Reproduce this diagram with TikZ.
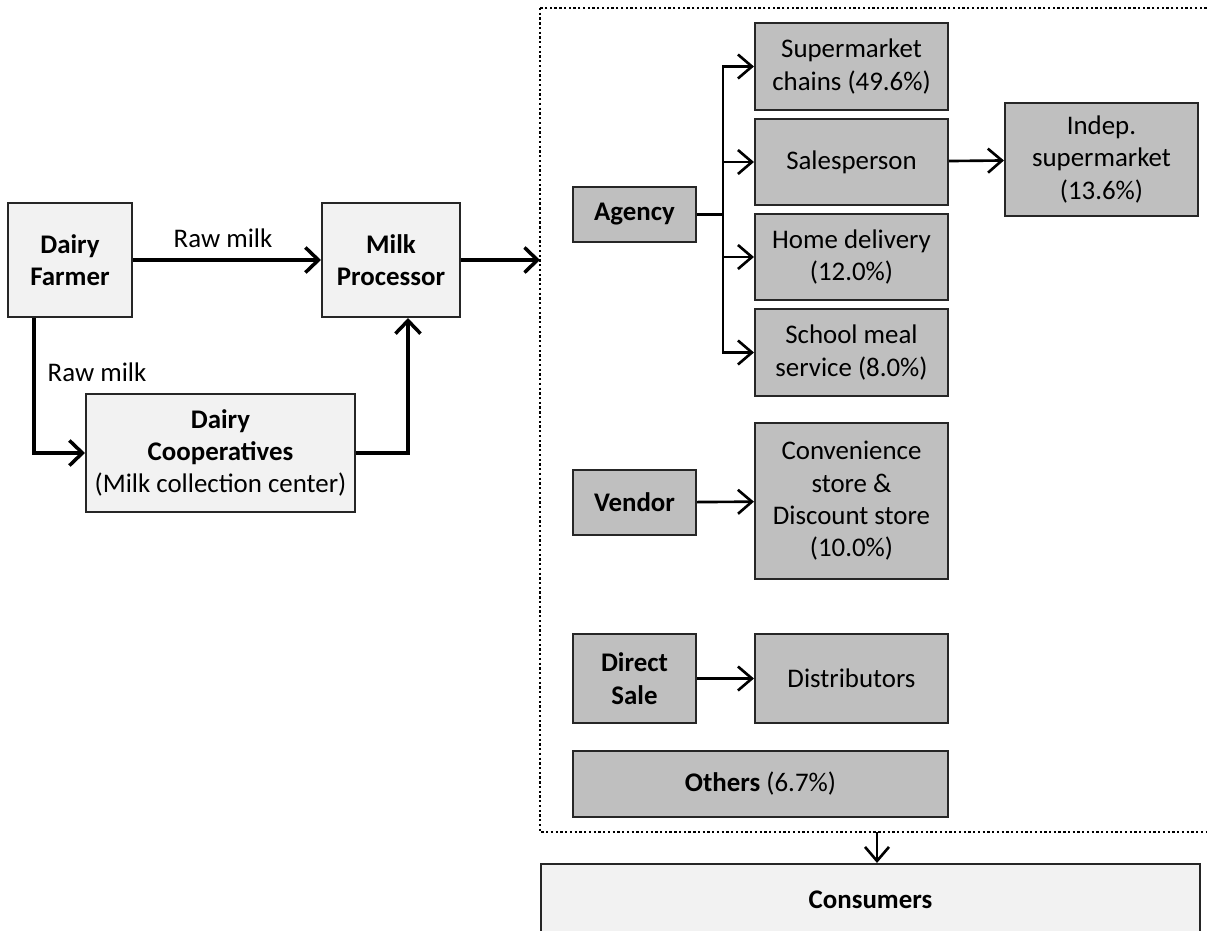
\documentclass[tikz,border=0pt]{standalone}
\usepackage{fontspec}
\setmainfont{Carlito}
\usetikzlibrary{arrows.meta}
\definecolor{lightfill}{HTML}{F2F2F2}
\definecolor{darkfill}{HTML}{BFBFBF}
\tikzset{
  lightbox/.style={draw=black!85, line width=1.2pt, fill=lightfill, align=center, inner sep=2pt},
  darkbox/.style={draw=black!85, line width=1.2pt, fill=darkfill, align=center, inner sep=2pt},
  mainflow/.style={line width=2pt, -{Straight Barb[length=0.26cm,width=0.5cm,line width=2pt]}},
  subflow/.style={line width=1.5pt, -{Straight Barb[length=0.28cm,width=0.48cm,line width=1.5pt]}},
  flowlabel/.style={inner sep=0pt}
}
\begin{document}
\begin{tikzpicture}[x=0.02cm, y=-0.02cm, font=\fontsize{15.3}{18.4}\selectfont]
      \useasboundingbox (0,0) rectangle (1207,930);
      \clip (0,0) rectangle (1207,930);
      % supply side
      \node[lightbox, minimum width=2.48cm, minimum height=2.28cm] (farmer) at (70,260) {\textbf{Dairy}\\\textbf{Farmer}};
      \node[lightbox, minimum width=2.76cm, minimum height=2.28cm] (proc) at (391,260) {\textbf{Milk}\\\textbf{Processor}};
      \node[lightbox, minimum width=5.38cm, minimum height=2.36cm] (coop) at (220.5,453) {\textbf{Dairy}\\\textbf{Cooperatives}\\(Milk collection center)};
      \node[flowlabel] (rawtop) at (223,238) {Raw milk};
      \node[flowlabel] (rawleft) at (97,372) {Raw milk};
      % distribution channels
      \draw[line width=1.2pt, dash pattern=on 1.3pt off 1.4pt] (540,8) rectangle (1240,832);
      \node[darkbox, minimum width=2.46cm, minimum height=1.10cm] (agency) at (634.5,214.5) {\textbf{Agency}};
      \node[darkbox, minimum width=3.86cm, minimum height=1.74cm] (chains) at (851.5,66.5) {Supermarket\\chains (49.6\%)};
      \node[darkbox, minimum width=3.86cm, minimum height=1.72cm] (sales) at (851.5,162) {Salesperson};
      \node[darkbox, minimum width=3.86cm, minimum height=1.72cm] (home) at (851.5,257) {Home delivery\\(12.0\%)};
      \node[darkbox, minimum width=3.86cm, minimum height=1.74cm] (school) at (851.5,352.5) {School meal\\service (8.0\%)};
      \node[darkbox, minimum width=3.86cm, minimum height=2.26cm] (indep) at (1101.5,159.5) {Indep.\\supermarket\\(13.6\%)};
      \node[darkbox, minimum width=2.46cm, minimum height=1.30cm] (vendor) at (634.5,502.5) {\textbf{Vendor}};
      \node[darkbox, minimum width=3.86cm, minimum height=3.12cm] (conv) at (851.5,501) {Convenience\\store \&\\Discount store\\(10.0\%)};
      \node[darkbox, minimum width=2.46cm, minimum height=1.78cm] (direct) at (634.5,678.5) {\textbf{Direct}\\\textbf{Sale}};
      \node[darkbox, minimum width=3.86cm, minimum height=1.78cm] (distr) at (851.5,678.5) {Distributors};
      \node[darkbox, minimum width=7.50cm, minimum height=1.32cm] (others) at (760.5,784) {\textbf{Others} (6.7\%)};
      \node[lightbox, minimum width=13.18cm, minimum height=1.44cm] (consumers) at (870.5,900) {\textbf{Consumers}};
      \coordinate (chanleft) at (540,260);
      \coordinate (chanbottom) at (877,832);
      \coordinate (trunk) at (723,214.5);
      % connectors
      \begin{scope}[mainflow]
        \draw (farmer) -- (proc);
        \draw (proc) -- (chanleft);
        \draw ([xshift=-0.72cm]farmer.south) |- (coop.west);
        \draw (coop.east) -| ([xshift=0.34cm]proc.south);
      \end{scope}
      \begin{scope}[subflow]
        \draw[-] (agency.east) -- (trunk);
        \draw (trunk) |- (chains.west);
        \draw (trunk) |- (sales.west);
        \draw (trunk) |- (home.west);
        \draw (trunk) |- (school.west);
        \draw (sales) -- (indep);
        \draw (vendor) -- (conv);
        \draw (direct) -- (distr);
        \draw (chanbottom) -- (consumers.north -| chanbottom);
      \end{scope}
    \end{tikzpicture}
\end{document}
